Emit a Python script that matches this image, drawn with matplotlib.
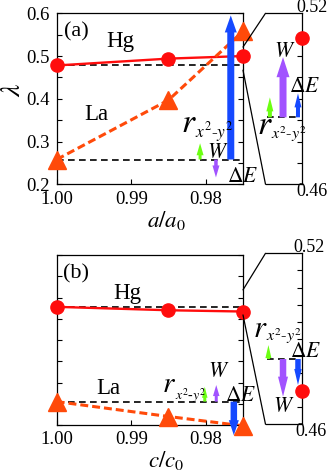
import matplotlib
matplotlib.use("Agg")
import matplotlib.pyplot as plt
from matplotlib.patches import FancyArrowPatch, ConnectionPatch
import numpy as np

# ---------------- data ----------------
ratio = [1.000, 0.985, 0.975]
hg_a = [0.478, 0.494, 0.500]
la_a = [0.258, 0.397, 0.558]
hg_b = [0.478, 0.470, 0.467]
la_b = [0.255, 0.220, 0.198]

base_a = [0.478, 0.258]          # dashed reference lines (Hg, La), panel a
base_b = [0.478, 0.255]          # panel b
# main-panel arrow tips (La): r, W, dE
arrows_a = [0.296, 0.216, 0.595]
arrows_b = [0.290, 0.294, 0.176]
# inset (Hg) baseline, arrow tips r, W, dE and end value
inset_a = [0.4835, 0.4905, 0.5046, 0.4919, 0.5113]
inset_b = [0.4829, 0.4878, 0.4697, 0.4738, 0.4717]

xticks = [1.00, 0.99, 0.98]
xticklabels = ["1.00", "0.99", "0.98"]
yticks = [0.2, 0.3, 0.4, 0.5, 0.6]
yticklabels = ["0.2", "0.3", "0.4", "0.5", "0.6"]

GREEN = "#6cff12"
PURPLE = "#a152ff"
BLUE = "#1549ff"
RED = "#ff0d0d"
ORANGE = "#ff4a0a"

plt.rcParams["font.family"] = ["Liberation Serif", "DejaVu Serif"]
plt.rcParams["mathtext.fontset"] = "stix"

W, H = 328, 471
fig = plt.figure(figsize=(W / 100, H / 100), dpi=100)


def fbox(l, t, r, b):
    return [l / W, 1 - b / H, (r - l) / W, (b - t) / H]


PX = 0.72  # points per pixel


def arrow(ax, x, y0, y1, color, tw, hw, hl):
    a = FancyArrowPatch((x, y0), (x, y1),
                        arrowstyle=f"simple,head_length={hl*PX},head_width={hw*PX},tail_width={tw*PX}",
                        mutation_scale=1, color=color, lw=0, shrinkA=0, shrinkB=0,
                        transform=ax.transData, clip_on=False, zorder=4)
    ax.add_patch(a)


def ftext(x, y, s, size, ha="center", va="center", **kw):
    fig.text(x / W, 1 - y / H, s, fontsize=size, ha=ha, va=va, **kw)


def rlabel(x, y, rsize, subx, suby, subsize):
    ftext(x, y, r"$r$", rsize, ha="left", va="baseline")
    ftext(subx, suby, r"$x^2$-$y^2$", subsize, ha="left", va="baseline")


def main_axes(box, hg, la, base, label_y):
    ax = fig.add_axes(fbox(*box))
    ax.set_xlim(1.0, 0.975)
    ax.set_ylim(0.2, 0.6)
    ax.set_xticks(xticks)
    ax.set_xticklabels(xticklabels)
    ax.set_yticks(yticks)
    ax.set_yticks(np.arange(0.25, 0.6, 0.1), minor=True)
    if label_y:
        ax.set_yticklabels(yticklabels)
    else:
        ax.set_yticklabels([])
    ax.tick_params(which="both", direction="in", right=True, labelsize=13.5,
                   length=3.5, width=0.8, pad=5)
    ax.tick_params(axis="x", pad=4.5)
    for s in ax.spines.values():
        s.set_linewidth(0.9)
    for b in base:
        ax.plot([1.0, 0.975], [b, b], color="black", lw=1.2, dashes=(4, 2.6), zorder=2)
    ax.plot(ratio, hg, color=RED, lw=1.7, zorder=3)
    ax.plot(ratio, hg, "o", color=RED, ms=9.5, clip_on=False, zorder=5)
    ax.plot(ratio, la, color=ORANGE, lw=2.2, dashes=(2.6, 1.3), zorder=3)
    ax.plot(ratio, la, "^", color=ORANGE, ms=13.5, clip_on=False, zorder=5)
    return ax


def inset_axes(box, ntick):
    ax = fig.add_axes(fbox(*box))
    ax.set_xlim(0, 1)
    ax.set_ylim(0.46, 0.52)
    ax.spines["left"].set_visible(False)
    for s in ax.spines.values():
        s.set_linewidth(0.9)
    ax.set_xticks([])
    ax.set_yticks(0.46 + np.arange(1, ntick) * 0.06 / ntick)
    ax.yaxis.tick_right()
    ax.tick_params(axis="y", direction="in", length=3.5, width=0.8, labelright=False)
    ax.patch.set_alpha(0)
    return ax


def connect(ax, ins, y_top, y_bot):
    for ym, yi in ((y_top, 1), (y_bot, 0)):
        c = ConnectionPatch(xyA=(0.975, ym), coordsA=ax.transData,
                            xyB=(0, yi), coordsB=ins.transAxes,
                            color="black", lw=0.9)
        fig.add_artist(c)


# ---------------- panel (a) ----------------
ax_a = main_axes((56.7, 13.3, 243, 184.3), hg_a, la_a, base_a, True)
b = base_a[1]
arrow(ax_a, 0.98076, b, arrows_a[0], GREEN, 3, 7, 12)
arrow(ax_a, 0.97863, b, arrows_a[1], PURPLE, 3.5, 7, 12)
arrow(ax_a, 0.97664, b, arrows_a[2], BLUE, 7, 12, 17)

in_a = inset_axes((265.5, 13.3, 302, 184.3), 8)
bb = inset_a[0]
in_a.plot([0.03, 0.95], [bb, bb], color="black", lw=1.2, dashes=(4, 2.6))
arrow(in_a, 0.12, bb, inset_a[1], GREEN, 4, 7, 14)
arrow(in_a, 0.48, bb, inset_a[2], PURPLE, 7, 13, 20)
arrow(in_a, 0.89, bb, inset_a[3], BLUE, 4, 7, 14)
in_a.plot([1.0], [inset_a[4]], "o", color=RED, ms=9.5, clip_on=False, zorder=5)
connect(ax_a, in_a, 0.521, 0.467)

ftext(76, 32, "(a)", 16)
ftext(120, 41, "Hg", 16.5)
ftext(96, 115, "La", 16.5)
rlabel(181, 132, 24, 195, 137, 12.5)
ftext(218, 158, r"$W$", 15.5, va="baseline")
ftext(243, 182, r"$\Delta E$", 15.5, va="baseline")
ftext(285, 57, r"$W$", 15.5, va="baseline")
ftext(305, 92, r"$\Delta E$", 15.5, va="baseline")
rlabel(257, 134, 24, 271, 139, 11.5)
ftext(312, 7, "0.52", 13)
ftext(312, 191, "0.46", 13)
ftext(13.5, 90, r"$\lambda$", 20, rotation=90)
ftext(166, 221, r"$a/a_0$", 16.5)

# ---------------- panel (b) ----------------
ax_b = main_axes((56.7, 255, 243, 425), hg_b, la_b, base_b, False)
b = base_b[1]
arrow(ax_b, 0.98013, b, arrows_b[0], GREEN, 3, 5.5, 11)
arrow(ax_b, 0.97859, b, arrows_b[1], PURPLE, 3, 6.5, 11)
arrow(ax_b, 0.97623, b, arrows_b[2], BLUE, 6.5, 10, 15)

in_b = inset_axes((265.5, 253.3, 302, 424.3), 10)
bb = inset_b[0]
in_b.plot([0.03, 0.95], [bb, bb], color="black", lw=1.2, dashes=(4, 2.6))
arrow(in_b, 0.08, bb, inset_b[1], GREEN, 3, 6, 13)
arrow(in_b, 0.48, bb, inset_b[2], PURPLE, 6.5, 10, 20)
arrow(in_b, 0.89, bb, inset_b[3], BLUE, 5.5, 7.5, 16)
in_b.plot([1.0], [inset_b[4]], "o", color=RED, ms=9.5, clip_on=False, zorder=5)
connect(ax_b, in_b, 0.518, 0.459)

ftext(76, 274, "(b)", 16)
ftext(127, 294, "Hg", 16.5)
ftext(108, 389, "La", 16.5)
rlabel(162, 392, 21, 175, 400, 10)
ftext(219, 377, r"$W$", 15.5, va="baseline")
ftext(241, 401, r"$\Delta E$", 15.5, va="baseline")
rlabel(253, 337, 22, 266, 341, 11.5)
ftext(306, 357, r"$\Delta E$", 15.5, va="baseline")
ftext(284, 412, r"$W$", 15.5, va="baseline")
ftext(309, 248, "0.52", 13)
ftext(311, 432, "0.46", 13)
ftext(166, 460, r"$c/c_0$", 16.5)

fig.savefig("out.png", dpi=100)
